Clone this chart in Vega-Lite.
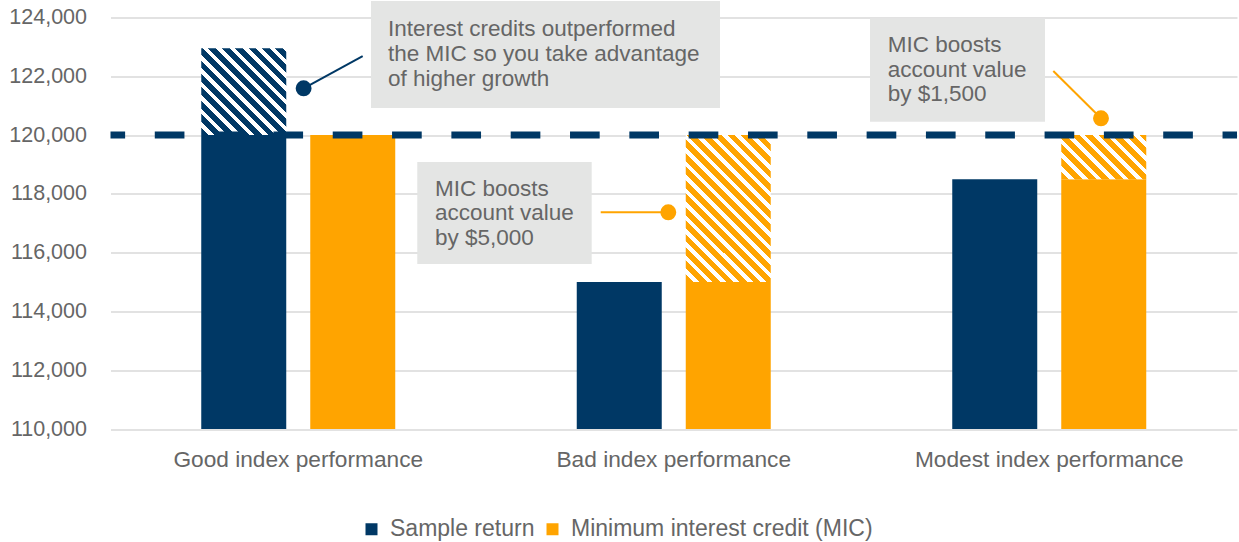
{
  "$schema": "https://vega.github.io/schema/vega-lite/v6.json",
  "width": 1126.5,
  "height": 411.5,
  "autosize": {"type": "none"},
  "padding": {"left": 110.5, "top": 17.5, "right": 2, "bottom": 113},
  "background": "white",
  "config": {
    "view": {"stroke": null},
    "font": "Liberation Sans",
    "axis": {"labelFont": "Liberation Sans", "labelColor": "#666666"},
    "legend": {"labelFont": "Liberation Sans"}
  },
  "datasets": {
    "bars": [
      {"cat": "Good index performance", "series": "Sample return", "value": 120000},
      {"cat": "Good index performance", "series": "Minimum interest credit (MIC)", "value": 120000},
      {"cat": "Bad index performance", "series": "Sample return", "value": 115000},
      {"cat": "Bad index performance", "series": "Minimum interest credit (MIC)", "value": 115000},
      {"cat": "Modest index performance", "series": "Sample return", "value": 118500},
      {"cat": "Modest index performance", "series": "Minimum interest credit (MIC)", "value": 118500}
    ],
    "hatch": [
      {"cat": "Good index performance", "series": "Sample return", "from": 120000, "to": 122950},
      {"cat": "Bad index performance", "series": "Minimum interest credit (MIC)", "from": 115000, "to": 120000},
      {"cat": "Modest index performance", "series": "Minimum interest credit (MIC)", "from": 118500, "to": 120000}
    ],
    "boxes": [
      {"u": 0.6937, "u2": 1.6232, "v": 124561, "v2": 120921},
      {"u": 0.817, "u2": 1.2815, "v": 119084, "v2": 115614},
      {"u": 2.0226, "u2": 2.4887, "v": 123973, "v2": 120455}
    ],
    "callouts": [
      {"series": "Sample return", "u": 0.6716, "u2": 0.5143, "v": 122690, "v2": 121591},
      {"series": "Minimum interest credit (MIC)", "u": 1.3055, "u2": 1.4855, "v": 117373, "v2": 117373},
      {"series": "Minimum interest credit (MIC)", "u": 2.5108, "u2": 2.6378, "v": 122180, "v2": 120571}
    ],
    "notes": [
      {"u": 0.739, "v": 123381, "line": "Interest credits outperformed"},
      {"u": 0.739, "v": 122520, "line": "the MIC so you take advantage"},
      {"u": 0.739, "v": 121659, "line": "of higher growth"},
      {"u": 0.8642, "v": 117938, "line": "MIC boosts"},
      {"u": 0.8642, "v": 117102, "line": "account value"},
      {"u": 0.8642, "v": 116260, "line": "by $5,000"},
      {"u": 2.0698, "v": 122837, "line": "MIC boosts"},
      {"u": 2.0698, "v": 121986, "line": "account value"},
      {"u": 2.0698, "v": 121159, "line": "by $1,500"}
    ]
  },
  "resolve": {"scale": {"x": "independent"}},
  "layer": [
    {
      "layer": [
        {
          "data": {"name": "bars"},
          "mark": {"type": "bar"},
          "encoding": {
            "x": {
              "field": "cat", "type": "nominal", "sort": null, "title": null,
              "scale": {"domain": ["Good index performance", "Bad index performance", "Modest index performance"], "padding": 0},
              "axis": {"title": null, "labelAngle": 0, "ticks": false, "domain": false, "grid": false, "labelFontSize": 22.7, "labelPadding": 19, "labelColor": "#666666", "labelLimit": 0}
            },
            "xOffset": {
              "field": "series", "type": "nominal",
              "scale": {"domain": ["Sample return", "Minimum interest credit (MIC)"], "paddingInner": 0.2202, "paddingOuter": 0.8326}
            },
            "y": {
              "field": "value", "type": "quantitative", "title": null,
              "scale": {"domain": [110000, 124000], "nice": false, "zero": false},
              "axis": {"title": null, "values": [110000, 112000, 114000, 116000, 118000, 120000, 122000, 124000], "format": ",d", "ticks": false, "domain": false, "grid": true, "gridColor": "#d9d9d9", "gridWidth": 1.3, "labelFontSize": 21.5, "labelPadding": 24, "labelColor": "#666666"}
            },
            "y2": {"datum": 110000},
            "color": {
              "field": "series", "type": "nominal",
              "scale": {"domain": ["Sample return", "Minimum interest credit (MIC)"], "range": ["#003865", "#FFA400"]},
              "legend": {
                "title": null, "orient": "none", "legendX": 249.5, "legendY": 500, "direction": "horizontal",
                "symbolType": "square", "symbolSize": 144, "symbolStrokeWidth": 0, "labelFontSize": 23,
                "labelColor": "#666666", "columnPadding": 6, "labelOffset": 7, "labelLimit": 0
              }
            }
          }
        },
        {
          "data": {"name": "hatch"},
          "transform": [{"filter": "datum.cat === 'Good index performance'"}],
          "mark": {
            "type": "bar",
            "color": {
              "gradient": "linear", "x1": 0, "y1": 1, "x2": 0.99, "y2": -0.01,
              "stops": [
                {"offset": 0, "color": "#003865"}, {"offset": 0.045, "color": "#003865"}, {"offset": 0.045, "color": "#ffffff"}, {"offset": 0.078, "color": "#ffffff"},
                {"offset": 0.078, "color": "#003865"}, {"offset": 0.123, "color": "#003865"}, {"offset": 0.123, "color": "#ffffff"}, {"offset": 0.156, "color": "#ffffff"},
                {"offset": 0.156, "color": "#003865"}, {"offset": 0.201, "color": "#003865"}, {"offset": 0.201, "color": "#ffffff"}, {"offset": 0.234, "color": "#ffffff"},
                {"offset": 0.234, "color": "#003865"}, {"offset": 0.279, "color": "#003865"}, {"offset": 0.279, "color": "#ffffff"}, {"offset": 0.312, "color": "#ffffff"},
                {"offset": 0.312, "color": "#003865"}, {"offset": 0.357, "color": "#003865"}, {"offset": 0.357, "color": "#ffffff"}, {"offset": 0.39, "color": "#ffffff"},
                {"offset": 0.39, "color": "#003865"}, {"offset": 0.435, "color": "#003865"}, {"offset": 0.435, "color": "#ffffff"}, {"offset": 0.468, "color": "#ffffff"},
                {"offset": 0.468, "color": "#003865"}, {"offset": 0.513, "color": "#003865"}, {"offset": 0.513, "color": "#ffffff"}, {"offset": 0.546, "color": "#ffffff"},
                {"offset": 0.546, "color": "#003865"}, {"offset": 0.591, "color": "#003865"}, {"offset": 0.591, "color": "#ffffff"}, {"offset": 0.624, "color": "#ffffff"},
                {"offset": 0.624, "color": "#003865"}, {"offset": 0.669, "color": "#003865"}, {"offset": 0.669, "color": "#ffffff"}, {"offset": 0.702, "color": "#ffffff"},
                {"offset": 0.702, "color": "#003865"}, {"offset": 0.747, "color": "#003865"}, {"offset": 0.747, "color": "#ffffff"}, {"offset": 0.78, "color": "#ffffff"},
                {"offset": 0.78, "color": "#003865"}, {"offset": 0.825, "color": "#003865"}, {"offset": 0.825, "color": "#ffffff"}, {"offset": 0.858, "color": "#ffffff"},
                {"offset": 0.858, "color": "#003865"}, {"offset": 0.903, "color": "#003865"}, {"offset": 0.903, "color": "#ffffff"}, {"offset": 0.936, "color": "#ffffff"},
                {"offset": 0.936, "color": "#003865"}, {"offset": 0.981, "color": "#003865"}, {"offset": 0.981, "color": "#ffffff"}, {"offset": 1, "color": "#ffffff"}
              ]
            }
          },
          "encoding": {
            "x": {"field": "cat", "type": "nominal", "sort": null, "title": null, "scale": {"domain": ["Good index performance", "Bad index performance", "Modest index performance"], "padding": 0}},
            "xOffset": {"field": "series", "type": "nominal", "scale": {"domain": ["Sample return", "Minimum interest credit (MIC)"], "paddingInner": 0.2202, "paddingOuter": 0.8326}},
            "y": {"field": "to", "type": "quantitative", "title": null, "scale": {"domain": [110000, 124000], "nice": false, "zero": false}},
            "y2": {"field": "from"}
          }
        },
        {
          "data": {"name": "hatch"},
          "transform": [{"filter": "datum.cat === 'Bad index performance'"}],
          "mark": {
            "type": "bar",
            "color": {
              "gradient": "linear", "x1": 0, "y1": 1, "x2": 0.684, "y2": -0.183,
              "stops": [
                {"offset": 0, "color": "#FFA400"}, {"offset": 0.034, "color": "#FFA400"}, {"offset": 0.034, "color": "#ffffff"}, {"offset": 0.058, "color": "#ffffff"},
                {"offset": 0.058, "color": "#FFA400"}, {"offset": 0.092, "color": "#FFA400"}, {"offset": 0.092, "color": "#ffffff"}, {"offset": 0.116, "color": "#ffffff"},
                {"offset": 0.116, "color": "#FFA400"}, {"offset": 0.15, "color": "#FFA400"}, {"offset": 0.15, "color": "#ffffff"}, {"offset": 0.174, "color": "#ffffff"},
                {"offset": 0.174, "color": "#FFA400"}, {"offset": 0.208, "color": "#FFA400"}, {"offset": 0.208, "color": "#ffffff"}, {"offset": 0.232, "color": "#ffffff"},
                {"offset": 0.232, "color": "#FFA400"}, {"offset": 0.266, "color": "#FFA400"}, {"offset": 0.266, "color": "#ffffff"}, {"offset": 0.29, "color": "#ffffff"},
                {"offset": 0.29, "color": "#FFA400"}, {"offset": 0.324, "color": "#FFA400"}, {"offset": 0.324, "color": "#ffffff"}, {"offset": 0.348, "color": "#ffffff"},
                {"offset": 0.348, "color": "#FFA400"}, {"offset": 0.382, "color": "#FFA400"}, {"offset": 0.382, "color": "#ffffff"}, {"offset": 0.406, "color": "#ffffff"},
                {"offset": 0.406, "color": "#FFA400"}, {"offset": 0.44, "color": "#FFA400"}, {"offset": 0.44, "color": "#ffffff"}, {"offset": 0.464, "color": "#ffffff"},
                {"offset": 0.464, "color": "#FFA400"}, {"offset": 0.498, "color": "#FFA400"}, {"offset": 0.498, "color": "#ffffff"}, {"offset": 0.522, "color": "#ffffff"},
                {"offset": 0.522, "color": "#FFA400"}, {"offset": 0.556, "color": "#FFA400"}, {"offset": 0.556, "color": "#ffffff"}, {"offset": 0.58, "color": "#ffffff"},
                {"offset": 0.58, "color": "#FFA400"}, {"offset": 0.614, "color": "#FFA400"}, {"offset": 0.614, "color": "#ffffff"}, {"offset": 0.638, "color": "#ffffff"},
                {"offset": 0.638, "color": "#FFA400"}, {"offset": 0.672, "color": "#FFA400"}, {"offset": 0.672, "color": "#ffffff"}, {"offset": 0.696, "color": "#ffffff"},
                {"offset": 0.696, "color": "#FFA400"}, {"offset": 0.73, "color": "#FFA400"}, {"offset": 0.73, "color": "#ffffff"}, {"offset": 0.754, "color": "#ffffff"},
                {"offset": 0.754, "color": "#FFA400"}, {"offset": 0.788, "color": "#FFA400"}, {"offset": 0.788, "color": "#ffffff"}, {"offset": 0.812, "color": "#ffffff"},
                {"offset": 0.812, "color": "#FFA400"}, {"offset": 0.846, "color": "#FFA400"}, {"offset": 0.846, "color": "#ffffff"}, {"offset": 0.87, "color": "#ffffff"},
                {"offset": 0.87, "color": "#FFA400"}, {"offset": 0.904, "color": "#FFA400"}, {"offset": 0.904, "color": "#ffffff"}, {"offset": 0.928, "color": "#ffffff"},
                {"offset": 0.928, "color": "#FFA400"}, {"offset": 0.962, "color": "#FFA400"}, {"offset": 0.962, "color": "#ffffff"}, {"offset": 0.986, "color": "#ffffff"},
                {"offset": 0.986, "color": "#FFA400"}, {"offset": 1, "color": "#FFA400"}
              ]
            }
          },
          "encoding": {
            "x": {"field": "cat", "type": "nominal", "sort": null, "title": null, "scale": {"domain": ["Good index performance", "Bad index performance", "Modest index performance"], "padding": 0}},
            "xOffset": {"field": "series", "type": "nominal", "scale": {"domain": ["Sample return", "Minimum interest credit (MIC)"], "paddingInner": 0.2202, "paddingOuter": 0.8326}},
            "y": {"field": "to", "type": "quantitative", "title": null, "scale": {"domain": [110000, 124000], "nice": false, "zero": false}},
            "y2": {"field": "from"}
          }
        },
        {
          "data": {"name": "hatch"},
          "transform": [{"filter": "datum.cat === 'Modest index performance'"}],
          "mark": {
            "type": "bar",
            "color": {
              "gradient": "linear", "x1": 0, "y1": 1, "x2": 1.197, "y2": 0.379,
              "stops": [
                {"offset": 0, "color": "#FFA400"}, {"offset": 0.061, "color": "#FFA400"}, {"offset": 0.061, "color": "#ffffff"}, {"offset": 0.105, "color": "#ffffff"},
                {"offset": 0.105, "color": "#FFA400"}, {"offset": 0.166, "color": "#FFA400"}, {"offset": 0.166, "color": "#ffffff"}, {"offset": 0.21, "color": "#ffffff"},
                {"offset": 0.21, "color": "#FFA400"}, {"offset": 0.271, "color": "#FFA400"}, {"offset": 0.271, "color": "#ffffff"}, {"offset": 0.315, "color": "#ffffff"},
                {"offset": 0.315, "color": "#FFA400"}, {"offset": 0.376, "color": "#FFA400"}, {"offset": 0.376, "color": "#ffffff"}, {"offset": 0.42, "color": "#ffffff"},
                {"offset": 0.42, "color": "#FFA400"}, {"offset": 0.481, "color": "#FFA400"}, {"offset": 0.481, "color": "#ffffff"}, {"offset": 0.525, "color": "#ffffff"},
                {"offset": 0.525, "color": "#FFA400"}, {"offset": 0.586, "color": "#FFA400"}, {"offset": 0.586, "color": "#ffffff"}, {"offset": 0.63, "color": "#ffffff"},
                {"offset": 0.63, "color": "#FFA400"}, {"offset": 0.691, "color": "#FFA400"}, {"offset": 0.691, "color": "#ffffff"}, {"offset": 0.735, "color": "#ffffff"},
                {"offset": 0.735, "color": "#FFA400"}, {"offset": 0.796, "color": "#FFA400"}, {"offset": 0.796, "color": "#ffffff"}, {"offset": 0.84, "color": "#ffffff"},
                {"offset": 0.84, "color": "#FFA400"}, {"offset": 0.901, "color": "#FFA400"}, {"offset": 0.901, "color": "#ffffff"}, {"offset": 0.945, "color": "#ffffff"},
                {"offset": 0.945, "color": "#FFA400"}, {"offset": 1, "color": "#FFA400"}
              ]
            }
          },
          "encoding": {
            "x": {"field": "cat", "type": "nominal", "sort": null, "title": null, "scale": {"domain": ["Good index performance", "Bad index performance", "Modest index performance"], "padding": 0}},
            "xOffset": {"field": "series", "type": "nominal", "scale": {"domain": ["Sample return", "Minimum interest credit (MIC)"], "paddingInner": 0.2202, "paddingOuter": 0.8326}},
            "y": {"field": "to", "type": "quantitative", "title": null, "scale": {"domain": [110000, 124000], "nice": false, "zero": false}},
            "y2": {"field": "from"}
          }
        }
      ]
    },
    {
      "layer": [
        {
          "data": {"values": [{"level": 120000}]},
          "mark": {"type": "rule", "color": "#003865", "strokeWidth": 7, "strokeDash": [29.66, 29.66], "strokeDashOffset": 15.2},
          "encoding": {"y": {"field": "level", "type": "quantitative", "title": null, "scale": {"domain": [110000, 124000], "nice": false, "zero": false}}}
        },
        {
          "data": {"name": "boxes"},
          "mark": {"type": "rect", "color": "#e4e5e4"},
          "encoding": {
            "x": {"field": "u", "type": "quantitative", "scale": {"domain": [0, 3], "nice": false, "zero": false}, "axis": null},
            "x2": {"field": "u2"},
            "y": {"field": "v", "type": "quantitative", "title": null, "scale": {"domain": [110000, 124000], "nice": false, "zero": false}},
            "y2": {"field": "v2"}
          }
        },
        {
          "data": {"name": "callouts"},
          "mark": {"type": "rule", "strokeWidth": 2},
          "encoding": {
            "x": {"field": "u", "type": "quantitative", "scale": {"domain": [0, 3], "nice": false, "zero": false}, "axis": null},
            "x2": {"field": "u2"},
            "y": {"field": "v", "type": "quantitative", "title": null, "scale": {"domain": [110000, 124000], "nice": false, "zero": false}},
            "y2": {"field": "v2"},
            "color": {"field": "series", "type": "nominal", "scale": {"domain": ["Sample return", "Minimum interest credit (MIC)"], "range": ["#003865", "#FFA400"]}, "legend": null}
          }
        },
        {
          "data": {"name": "callouts"},
          "mark": {"type": "point", "filled": true, "shape": "circle", "size": 254, "opacity": 1},
          "encoding": {
            "x": {"field": "u2", "type": "quantitative", "scale": {"domain": [0, 3], "nice": false, "zero": false}, "axis": null},
            "y": {"field": "v2", "type": "quantitative", "title": null, "scale": {"domain": [110000, 124000], "nice": false, "zero": false}},
            "color": {"field": "series", "type": "nominal", "scale": {"domain": ["Sample return", "Minimum interest credit (MIC)"], "range": ["#003865", "#FFA400"]}, "legend": null}
          }
        },
        {
          "data": {"name": "notes"},
          "mark": {"type": "text", "align": "left", "baseline": "alphabetic", "fontSize": 22.5, "color": "#666666", "font": "Liberation Sans"},
          "encoding": {
            "x": {"field": "u", "type": "quantitative", "scale": {"domain": [0, 3], "nice": false, "zero": false}, "axis": null},
            "y": {"field": "v", "type": "quantitative", "title": null, "scale": {"domain": [110000, 124000], "nice": false, "zero": false}},
            "text": {"field": "line"}
          }
        }
      ]
    }
  ]
}
